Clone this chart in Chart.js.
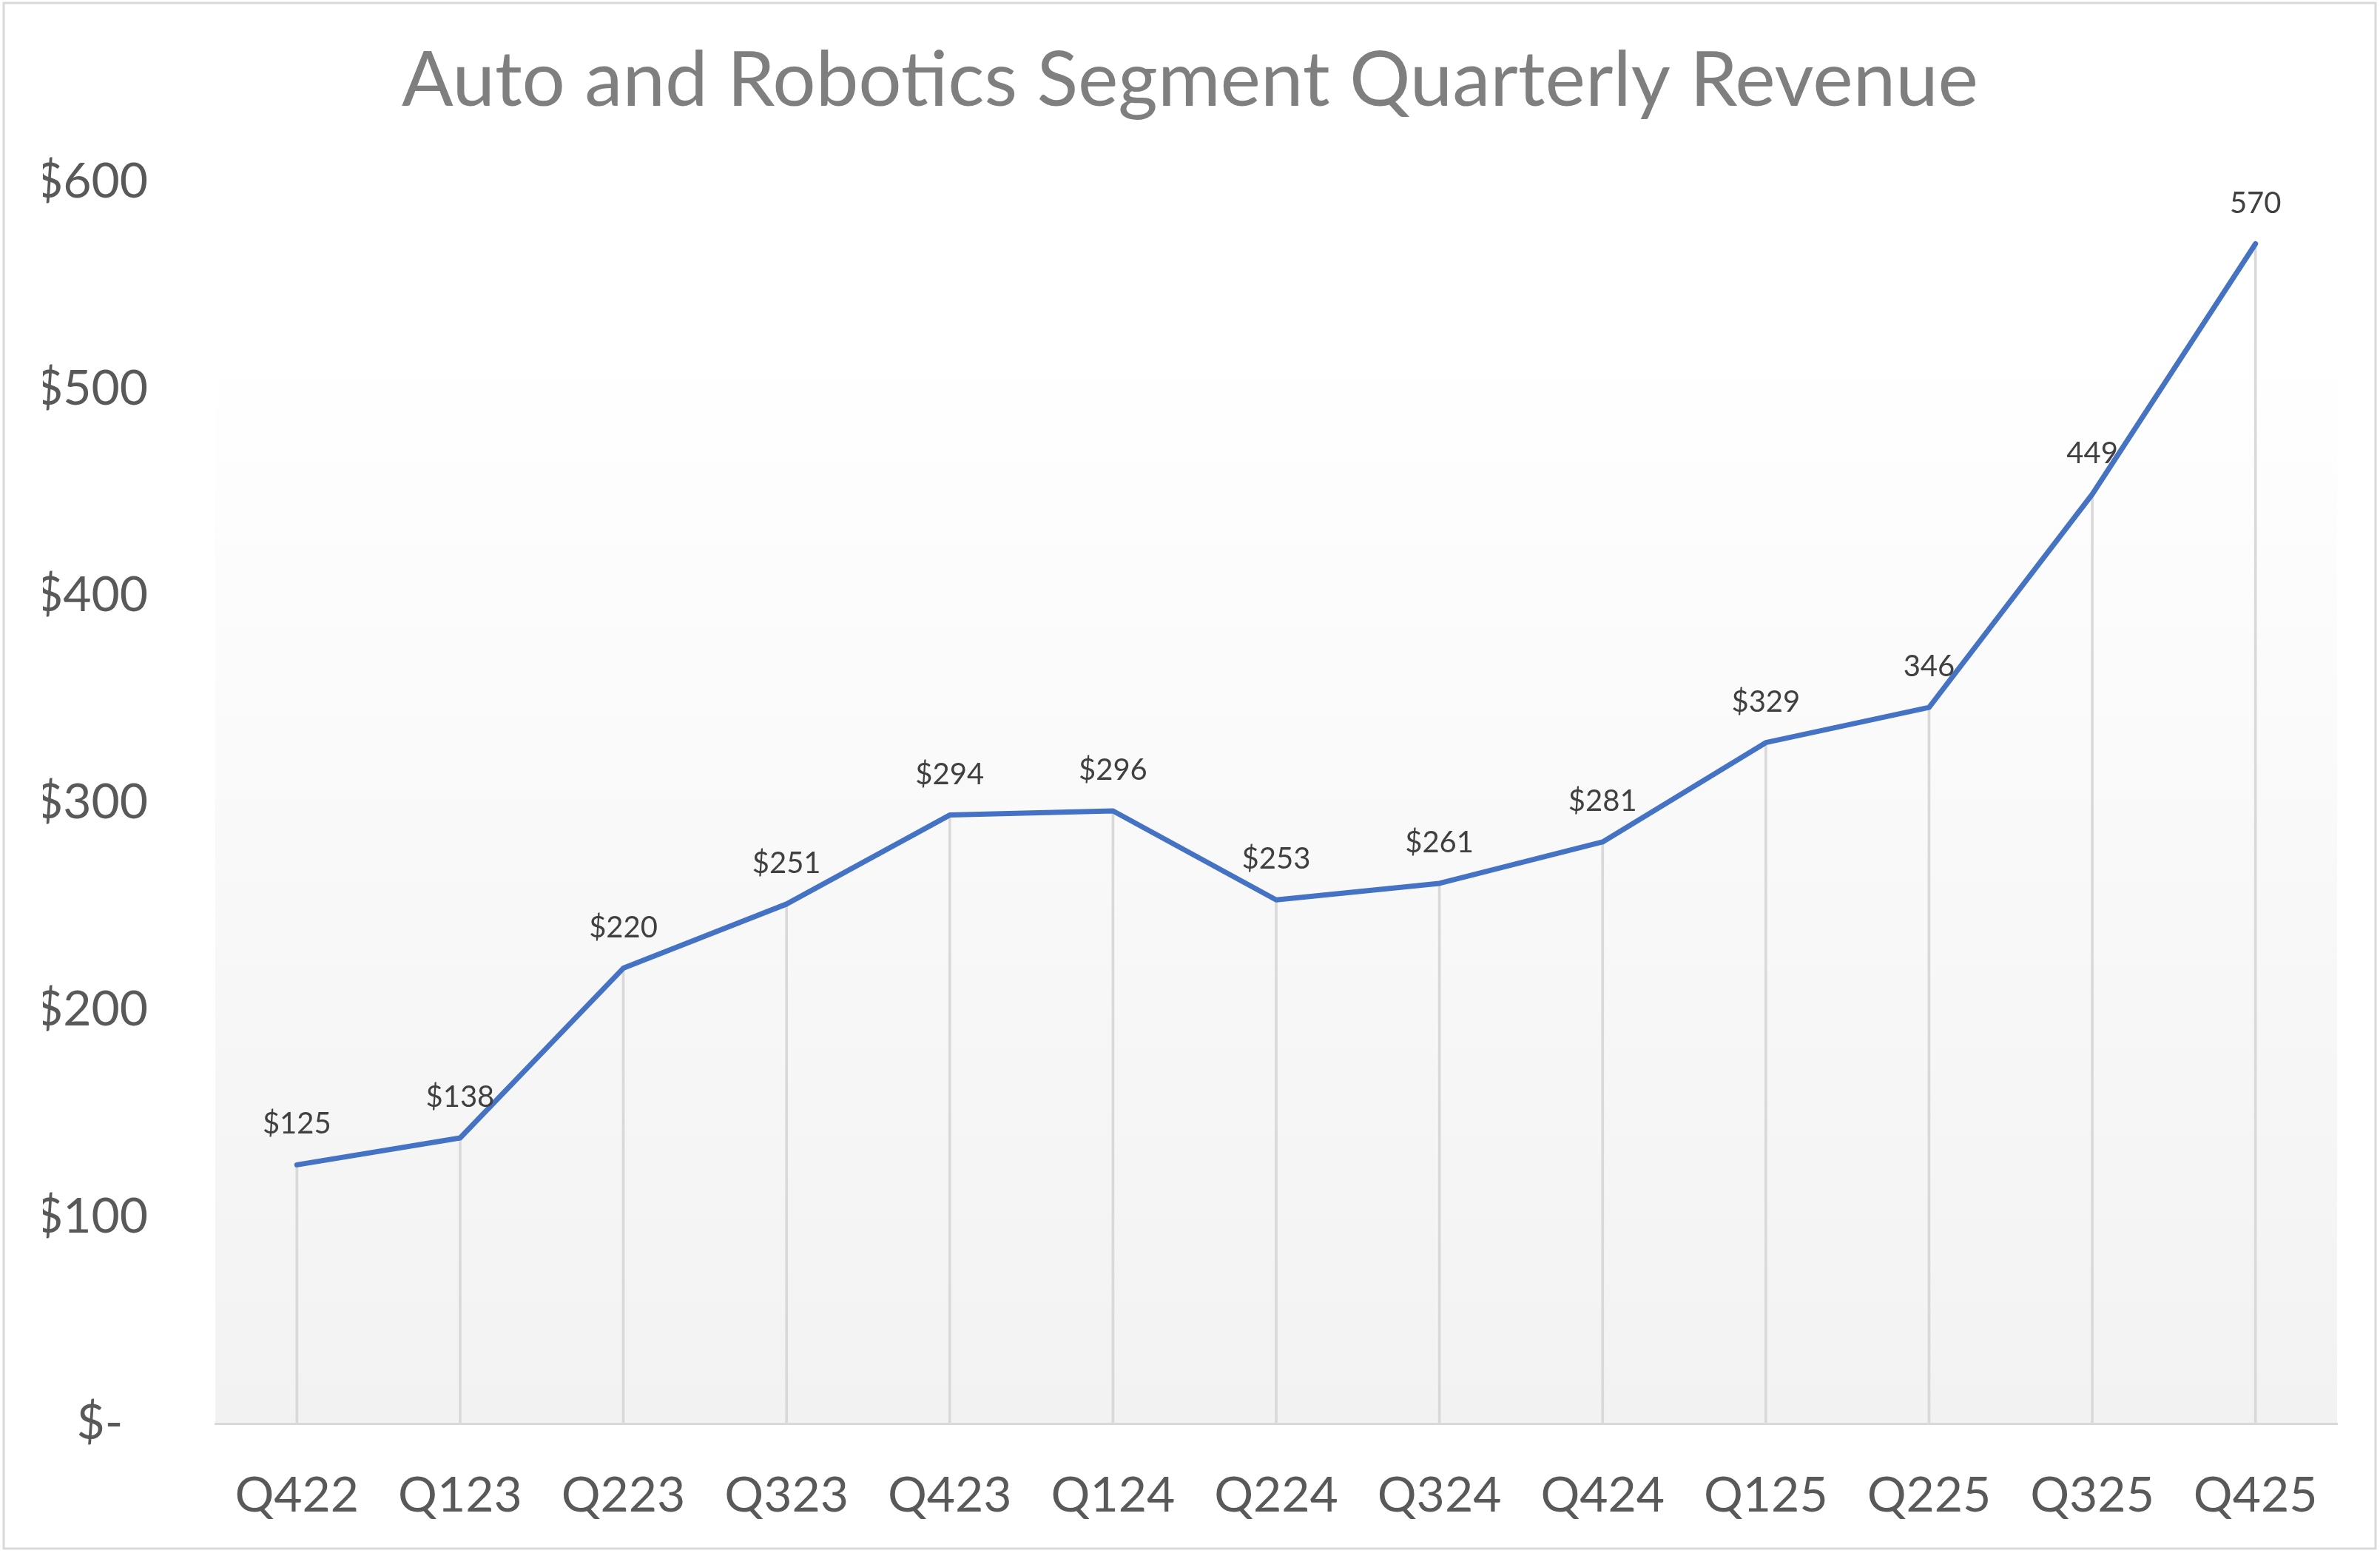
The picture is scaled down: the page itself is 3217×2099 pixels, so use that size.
<!DOCTYPE html>
<html>
<head>
<meta charset="utf-8">
<title>Auto and Robotics Segment Quarterly Revenue</title>
<script src="https://cdn.jsdelivr.net/npm/chart.js@4.4.1/dist/chart.umd.min.js"></script>
<style>
    body { margin: 0; background: #ffffff; }
    #wrap { width: 3217px; height: 2099px; position: relative; }
</style>
</head>
<body>
<div id="wrap"><canvas id="myChart"></canvas></div>
<script>
// chart data
const quarters = ["Q422", "Q123", "Q223", "Q323", "Q423", "Q124", "Q224", "Q324", "Q424", "Q125", "Q225", "Q325", "Q425"];
const revenue = [125, 138, 220, 251, 294, 296, 253, 261, 281, 329, 346, 449, 570];
const pointLabels = ["$125", "$138", "$220", "$251", "$294", "$296", "$253", "$261", "$281", "$329", "346", "449", "570"];
const yTicks = [0, 100, 200, 300, 400, 500, 600];

const fontFamily = "Lato, 'Open Sans', sans-serif";

// plot area gradient + outer border
const backdrop = {
    id: "backdrop",
    beforeDraw(chart) {
        const { ctx, chartArea } = chart;
        const g = ctx.createLinearGradient(0, chartArea.top, 0, chartArea.bottom);
        g.addColorStop(0, "#ffffff");
        g.addColorStop(0.12, "#ffffff");
        g.addColorStop(1, "#f2f2f2");
        ctx.save();
        ctx.fillStyle = g;
        ctx.fillRect(chartArea.left, chartArea.top, chartArea.right - chartArea.left, chartArea.bottom - chartArea.top);
        ctx.restore();
    },
    afterDraw(chart) {
        const ctx = chart.ctx;
        ctx.save();
        ctx.strokeStyle = "#d9d9d9";
        ctx.lineWidth = 3;
        ctx.strokeRect(5, 4, chart.width - 11, chart.height - 10);
        ctx.restore();
    },
};

// value labels above each point
const valueLabels = {
    id: "valueLabels",
    afterDatasetsDraw(chart) {
        const ctx = chart.ctx;
        const meta = chart.getDatasetMeta(0);
        ctx.save();
        ctx.font = "40px " + fontFamily;
        ctx.fillStyle = "#404040";
        ctx.textAlign = "center";
        ctx.textBaseline = "alphabetic";
        meta.data.forEach((pt, i) => {
            ctx.fillText(pointLabels[i], pt.x, pt.y - 42);
        });
        ctx.restore();
    },
};

const ctx = document.getElementById("myChart").getContext("2d");

new Chart(ctx, {
    type: "line",
    data: {
        labels: quarters,
        datasets: [
            {
                type: "line",
                label: "Revenue",
                data: revenue,
                borderColor: "#4472c4",
                backgroundColor: "#4472c4",
                borderWidth: 7,
                borderCapStyle: "round",
                borderJoinStyle: "round",
                pointRadius: 0,
                tension: 0,
                order: 0,
            },
            {
                // drop lines from each point to the axis
                type: "bar",
                label: "drop",
                data: revenue,
                backgroundColor: "#d9d9d9",
                barThickness: 3,
                order: 1,
            },
        ],
    },
    options: {
        responsive: true,
        maintainAspectRatio: false,
        devicePixelRatio: 1,
        animation: false,
        layout: {
            padding: { left: 58, right: 58, top: 0, bottom: 0 },
        },
        scales: {
            x: {
                offset: true,
                grid: { display: false, drawTicks: false },
                border: { display: true, color: "#d9d9d9", width: 3 },
                ticks: {
                    color: "#595959",
                    font: { family: fontFamily, size: 66 },
                    padding: 58,
                    maxRotation: 0,
                    autoSkip: false,
                },
                afterFit(scale) {
                    scale.height = 175;
                },
            },
            y: {
                min: 0,
                max: 600,
                grid: { display: false, drawTicks: false },
                border: { display: false },
                afterBuildTicks(scale) {
                    scale.ticks = yTicks.map((v) => ({ value: v }));
                },
                ticks: {
                    color: "#595959",
                    font: { family: fontFamily, size: 66 },
                    padding: 91,
                    callback: function (value) {
                        return value === 0 ? "$-  " : "$" + value;
                    },
                },
                afterFit(scale) {
                    scale.width = 233;
                },
            },
        },
        plugins: {
            legend: { display: false },
            tooltip: { enabled: false },
            title: {
                display: true,
                text: "Auto and Robotics Segment Quarterly Revenue",
                color: "#7f7f7f",
                font: { family: fontFamily, size: 103, weight: "normal" },
                padding: { top: 48, bottom: 74 },
            },
        },
    },
    plugins: [backdrop, valueLabels],
});
</script>
</body>
</html>
